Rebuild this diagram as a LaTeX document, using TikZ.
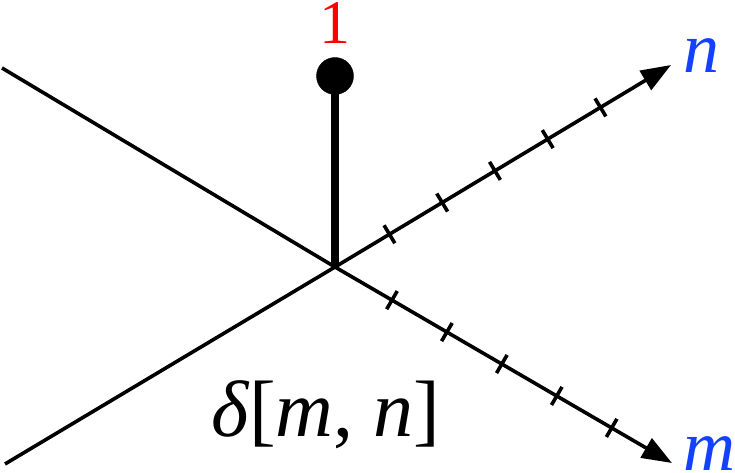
\documentclass[tikz,border=0pt]{standalone}
\usepackage{fontspec}
\setmainfont{Liberation Serif}
\usetikzlibrary{arrows.meta,calc}
\definecolor{axisblue}{RGB}{20,64,255}
\definecolor{valred}{RGB}{255,0,0}
\tikzset{
  axis/.style={line width=3.6pt,-{Triangle[length=30pt,width=22pt]}},
  backline/.style={line width=3.6pt},
  bigtext/.style={inner sep=0,font=\fontsize{72}{80}\selectfont\itshape},
}
\begin{document}
\begin{tikzpicture}[x=1pt,y=-1pt]
          \useasboundingbox (0,0) rectangle (735,473);
          % origin and axis ends
          \coordinate (O) at (335,267);
          \coordinate (ntip) at (671,65);
          \coordinate (mtip) at (672,463);
          \coordinate (nback) at (5,464);
          \coordinate (mback) at (2,68);
          % Draw the axes
          \draw[backline] (mback) -- (O);
          \draw[backline] (nback) -- (O);
          \draw[axis] (O) -- (ntip);
          \draw[axis] (O) -- (mtip);
          % tick marks
          \foreach \k in {1,...,5} {
            \coordinate (tn) at ($(O)!{0.005+\k*0.157}!(ntip)$);
            \draw[backline] ($(tn)!10.5pt!90:(ntip)$) -- ($(tn)!10.5pt!-90:(ntip)$);
            \coordinate (tm) at ($(O)!{0.006+\k*0.163}!(mtip)$);
            \draw[backline] ($(tm)!10.5pt!90:(mtip)$) -- ($(tm)!10.5pt!-90:(mtip)$);
          }
          % the unit sample
          \node[draw,shape=circle,fill=black,minimum size=37pt,inner sep=0] (ball) at (335,76) {};
          \draw[line width=8pt] (O) -- (ball.center);
          \node[valred,inner sep=0,font=\fontsize{62}{66}\selectfont] (val) at (335,23) {1};
          % Label the axes
          \node[axisblue,bigtext,anchor=base west] (nlab) at (683,73) {n};
          \node[axisblue,bigtext,anchor=base west] (mlab) at (683,470) {m};
          \node[bigtext,font=\fontsize{80}{88}\selectfont,anchor=base] (title) at (326,436)
            {{\itshape δ}[{\itshape m}, {\itshape n}]};
        \end{tikzpicture}
\end{document}
